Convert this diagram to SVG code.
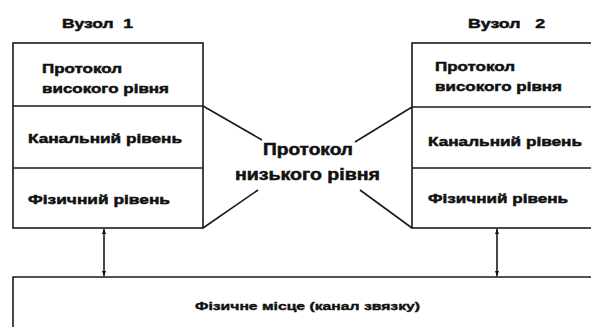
<svg xmlns="http://www.w3.org/2000/svg" width="591" height="333" viewBox="0 0 591 333">
  <defs>
    <marker id="head" viewBox="0 0 10 10" refX="10" refY="5" markerWidth="5" markerHeight="7" orient="auto-start-reverse" markerUnits="userSpaceOnUse">
      <path d="M0,1 L10,5 L0,9 Z" fill="#111"/>
    </marker>
    <style>
      .box { fill: #fff; stroke: #1a1a1a; stroke-width: 1.6; }
      .line { stroke: #1a1a1a; stroke-width: 1.6; fill: none; }
      .lbl { font-family: "Liberation Sans", Arial, sans-serif; font-weight: bold; fill: #111; stroke: #111; stroke-width: 0.5; }
      .t14 { font-size: 13.5px; }
      .title { font-size: 13px; }
      .mid { font-size: 16px; }
      .small { font-size: 11px; stroke-width: 0.4; }
    </style>
  </defs>
  <rect width="591" height="333" fill="#fff"/>

  <!-- Node 1 stack -->
  <g id="node1">
    <text class="lbl title" x="62" y="28" textLength="71" lengthAdjust="spacingAndGlyphs" xml:space="preserve">Вузол  1</text>
    <rect class="box" x="13" y="43" width="190" height="185"/>
    <line class="line" x1="13" y1="106" x2="203" y2="106"/>
    <line class="line" x1="13" y1="168" x2="203" y2="168"/>
    <text class="lbl t14" x="42" y="73" textLength="80" lengthAdjust="spacingAndGlyphs">Протокол</text>
    <text class="lbl t14" x="42" y="93" textLength="127" lengthAdjust="spacingAndGlyphs">високого рівня</text>
    <text class="lbl t14" x="28" y="143" textLength="154" lengthAdjust="spacingAndGlyphs">Канальний рівень</text>
    <text class="lbl t14" x="28" y="204" textLength="142" lengthAdjust="spacingAndGlyphs">Фізичний рівень</text>
  </g>

  <!-- Node 2 stack -->
  <g id="node2">
    <text class="lbl title" x="468" y="28" textLength="77" lengthAdjust="spacingAndGlyphs" xml:space="preserve">Вузол   2</text>
    <rect class="box" x="412" y="43" width="190" height="185"/>
    <line class="line" x1="412" y1="107" x2="591" y2="107"/>
    <line class="line" x1="412" y1="168" x2="591" y2="168"/>
    <text class="lbl t14" x="435" y="71" textLength="80" lengthAdjust="spacingAndGlyphs">Протокол</text>
    <text class="lbl t14" x="435" y="91" textLength="127" lengthAdjust="spacingAndGlyphs">високого рівня</text>
    <text class="lbl t14" x="428" y="146" textLength="154" lengthAdjust="spacingAndGlyphs">Канальний рівень</text>
    <text class="lbl t14" x="428" y="203" textLength="140" lengthAdjust="spacingAndGlyphs">Фізичний рівень</text>
  </g>

  <!-- Low-level protocol label -->
  <g id="low-protocol">
    <text class="lbl mid" x="263" y="155" textLength="90" lengthAdjust="spacingAndGlyphs">Протокол</text>
    <text class="lbl mid" x="235" y="180" textLength="145" lengthAdjust="spacingAndGlyphs">низького рівня</text>
  </g>

  <!-- Physical medium -->
  <g id="medium">
    <path class="line" d="M13,327 L13,277 L591,277"/>
    <text class="lbl small" x="195" y="310" textLength="225" lengthAdjust="spacingAndGlyphs">Фізичне місце (канал звязку)</text>
  </g>

  <!-- Connectors -->
  <g id="connectors">
    <line class="line" x1="203" y1="106" x2="262" y2="140"/>
    <line class="line" x1="203" y1="228" x2="258" y2="190"/>
    <line class="line" x1="412" y1="107" x2="355" y2="142"/>
    <line class="line" x1="412" y1="228" x2="360" y2="190"/>
    <line class="line" x1="104" y1="229" x2="104" y2="276" marker-start="url(#head)" marker-end="url(#head)"/>
    <line class="line" x1="497" y1="229" x2="497" y2="276" marker-start="url(#head)" marker-end="url(#head)"/>
  </g>
</svg>
